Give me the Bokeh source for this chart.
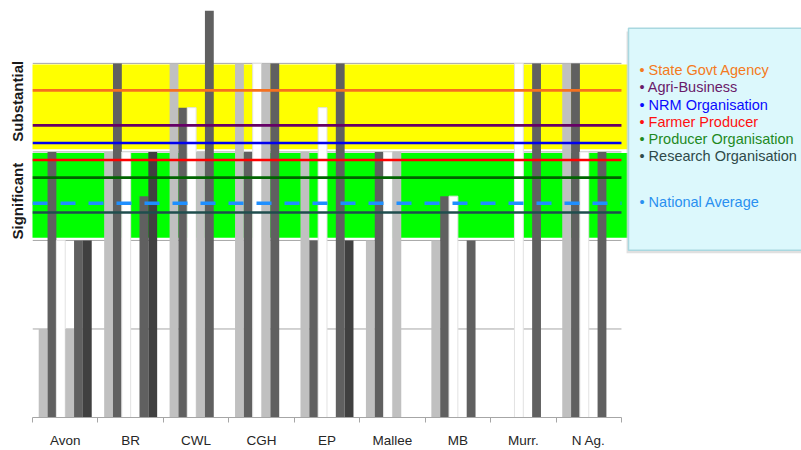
from bokeh.plotting import figure
from bokeh.models import Range1d, FixedTicker
from bokeh.embed import file_html
from bokeh.resources import INLINE
from bokeh.core.properties import value

# ---------------- data ----------------
categories = ["Avon", "BR", "CWL", "CGH", "EP", "Mallee", "MB", "Murr.", "N Ag."]

# six bar series per region (rating 0..4; CWL s5 exceeds the axis)
s1 = [1, 3, 4, 4, 3, 2, 2, 0, 4]
s2 = [3, 4, 3.5, 3, 2, 3, 2.5, 0, 4]
s3 = [2, 3, 3.5, 4, 3.5, 3, 2.5, 4, 3]
s4 = [1, 0, 3, 4, 0, 3, 0, 0, 0]
s5 = [2, 2.5, 5, 4, 4, 0, 2, 4, 3]
s6 = [2, 3, 0, 0, 2, 0, 0, 0, 0]
series = [s1, s2, s3, s4, s5, s6]
series_colors = ["#c0c0c0", "#606060", "#ffffff", "#c0c0c0", "#606060", "#404040"]

# organisation-type averages (horizontal lines)
org_names = ["State Govt Agency", "Agri-Business", "NRM Organisation",
             "Farmer Producer", "Producer Organisation", "Research Organisation"]
org_levels = [3.695, 3.30, 3.10, 2.908, 2.71, 2.315]
org_line_colors = ["#f5701f", "#660066", "#0000ee", "#ff0000", "#006400", "#1f4e4e"]
org_text_colors = ["#f47a20", "#6a1b6a", "#0a0aff", "#ff1010", "#1f8a1f", "#2f4a4a"]

national_name = "National Average"
national_level = 2.419

# rating bands
band_labels = ["Significant", "Substantial"]
band_lows = [2, 3]
band_highs = [3, 4]
band_colors = ["#00ff00", "#ffff00"]
band_label_pos = [2.444, 3.572]

grid_levels = [1, 2, 3, 4]

# ---------------- figure ----------------
n = len(categories)
W, H = 801, 450
BL, BT, BB = 32, 10, 29
PX_X = 65.44   # px per category
PX_Y = 89.4    # px per rating unit
FW = W - BL
FH = H - BT - BB

p = figure(width=W, height=H, output_backend="svg", toolbar_location=None,
           x_range=Range1d(0, FW / PX_X), y_range=Range1d(0, FH / PX_Y),
           min_border_left=BL, min_border_right=0, min_border_top=BT, min_border_bottom=BB)
p.outline_line_color = None
p.background_fill_color = "white"
p.border_fill_color = "white"
p.xgrid.visible = False
p.ygrid.visible = False

def sx(px):
    return (px - BL) / PX_X

def sy(py):
    return (H - BB - py) / PX_Y

# gridlines (beneath bands)
p.segment(x0=[0] * len(grid_levels), x1=[n] * len(grid_levels), y0=grid_levels, y1=grid_levels,
          line_color="#a6a6a6", line_width=1)

# bands
band_right = sx(627)
p.quad(left=[sx(30)] * 2, right=[band_right] * 2,
       bottom=[b + 0.03 for b in band_lows], top=[t - 0.012 for t in band_highs],
       fill_color=band_colors, line_color=None)

# bars
bw = 0.135
for i, (vals, col) in enumerate(zip(series, series_colors)):
    xs = [k + 0.5 + (i - 2.5) * bw for k in range(n)]
    if col == "#ffffff":
        p.vbar(x=xs, top=vals, bottom=0, width=bw, fill_color=col,
               line_color="#e2e2e2", line_width=1)
    else:
        p.vbar(x=xs, top=vals, bottom=0, width=bw, fill_color=col, line_color=None)

# reference lines
p.segment(x0=[0] * len(org_levels), x1=[n] * len(org_levels), y0=org_levels, y1=org_levels,
          line_color=org_line_colors, line_width=2.6)
p.segment(x0=[0], x1=[n], y0=[national_level], y1=[national_level],
          line_color="#1e8fff", line_width=3.5, line_dash="15 13")

# legend panel
lg_left, lg_top, lg_bottom = sx(628), sy(28), sy(252)
p.quad(left=[lg_left - 0.03], right=[sx(W + 40)], top=[lg_top - 0.035], bottom=[lg_bottom - 0.035],
       fill_color="#cccccc", fill_alpha=0.6, line_color=None)
p.quad(left=[lg_left], right=[sx(W + 40)], top=[lg_top], bottom=[lg_bottom],
       fill_color="#dcf8fc", line_color="#a9d8e0", line_width=1.5)

tx = sx(639)
first_y = sy(70.3)
step = 17.4 / PX_Y
ys = [first_y - i * step for i in range(len(org_names))]
p.text(x=[tx] * len(org_names), y=ys, text=["\u2022 " + s for s in org_names],
       text_color=org_text_colors, text_font=value("Liberation Sans"),
       text_font_size="14.5px", text_baseline="middle", text_align="left")
p.text(x=[tx], y=[sy(203)], text=["\u2022 " + national_name],
       text_color="#2a90f0", text_font=value("Liberation Sans"),
       text_font_size="14.5px", text_baseline="middle", text_align="left")

# x axis
xa = p.xaxis[0]
xa.ticker = FixedTicker(ticks=[k + 0.5 for k in range(n)], minor_ticks=list(range(n + 1)))
xa.major_label_overrides = {k + 0.5: c for k, c in enumerate(categories)}
xa.bounds = (0, n)
xa.axis_line_color = "#a6a6a6"
xa.major_tick_line_color = None
xa.major_tick_out = 0
xa.major_tick_in = 0
xa.minor_tick_line_color = "#a6a6a6"
xa.minor_tick_out = 5
xa.minor_tick_in = 0
xa.major_label_standoff = 10
xa.major_label_text_font = "Liberation Sans"
xa.major_label_text_font_size = "13.5px"
xa.major_label_text_color = "#262626"

# y axis
ya = p.yaxis[0]
ya.ticker = FixedTicker(ticks=band_label_pos)
ya.major_label_overrides = {pos: lab for pos, lab in zip(band_label_pos, band_labels)}
ya.major_label_orientation = "parallel"
ya.axis_line_color = None
ya.major_tick_line_color = None
ya.minor_tick_line_color = None
ya.major_tick_out = 0
ya.major_tick_in = 0
ya.major_label_standoff = 6
ya.major_label_text_font = "Liberation Sans"
ya.major_label_text_font_style = "bold"
ya.major_label_text_font_size = "15px"
ya.major_label_text_color = "#1a1a1a"

open("out.html", "w").write(file_html(p, INLINE))
